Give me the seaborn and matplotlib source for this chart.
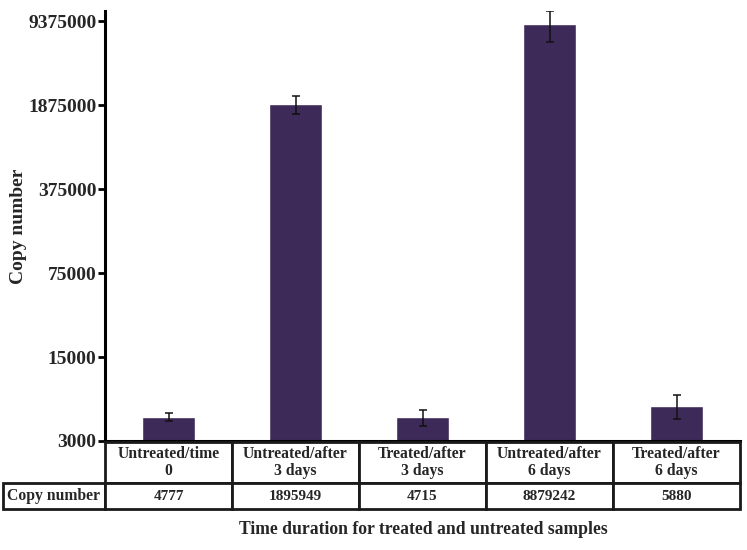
import matplotlib
matplotlib.use("Agg")
import matplotlib.pyplot as plt
import seaborn as sns
import pandas as pd

categorias = ["Untreated/time\n0", "Untreated/after\n3 days", "Treated/after\n3 days",
              "Untreated/after\n6 days", "Treated/after\n6 days"]
copias = [4777, 1895949, 4715, 8879242, 5880]
erros = [400, 330000, 700, 2550000, 1350]
ticks_y = [3000, 15000, 75000, 375000, 1875000, 9375000]

df = pd.DataFrame({"grupo": categorias, "copias": copias})

sns.set_theme(style="white")
plt.rcParams['font.family'] = ['Liberation Serif', 'DejaVu Serif']

fig = plt.figure(figsize=(7.47, 5.5), dpi=100)
ax = fig.add_axes([105 / 747, 1 - 441 / 550, 635 / 747, 430 / 550])

cor = "#3e2a58"
sns.barplot(data=df, x="grupo", y="copias", color=cor, width=0.41, ax=ax, saturation=1)
ax.errorbar(range(len(copias)), copias, yerr=erros, fmt="none", ecolor="#111111",
            elinewidth=1.1, capsize=3, capthick=1.1)

# eixo y em log base 5
ax.set_yscale("log", base=5)
ax.set_ylim(3000, 3000 * 5 ** 5.12)
ax.set_xlim(-0.5, 4.5)
ax.set_yticks(ticks_y)
ax.set_yticklabels([str(t) for t in ticks_y], fontsize=14, fontweight="bold")
ax.yaxis.set_minor_locator(matplotlib.ticker.NullLocator())
ax.tick_params(axis="y", left=True, length=5, width=2, pad=1, color="black")
ax.set_xticks([])
ax.set_xlabel("")

for lado in ["top", "right"]:
    ax.spines[lado].set_visible(False)
for lado in ["left", "bottom"]:
    ax.spines[lado].set_linewidth(2.2)
    ax.spines[lado].set_color("black")

ax.set_ylabel("Copy number", fontsize=14, fontweight="bold")
ax.yaxis.set_label_coords(-0.123, 0.5)
fig.text(423 / 747, 1 - 529 / 550, "Time duration for treated and untreated samples",
         ha="center", va="center", fontsize=12.7, fontweight="bold")

# tabela embaixo do grafico, num eixo separado (coluna 0 = rotulo da linha)
ax_tab = fig.add_axes([3 / 747, 1 - 509 / 550, 737 / 747, 67 / 550])
ax_tab.axis("off")
linhas = [[""] + categorias, ["Copy number"] + [str(v) for v in copias]]
tab = ax_tab.table(cellText=linhas, colWidths=[102] + [127] * 5, cellLoc="center",
                   bbox=[0, 0, 1, 1])
tab.auto_set_font_size(False)
for (r, c), cel in tab.get_celld().items():
    cel.set_linewidth(2)
    cel.set_height(41 if r == 0 else 26)
    cel.get_text().set_fontweight("bold")
    cel.get_text().set_fontsize(11.3 if (r == 0 or c == 0) else 11)
    cel.get_text().set_linespacing(1.05)
tab[0, 0].visible_edges = "open"

fig.savefig("out.png", dpi=100)
